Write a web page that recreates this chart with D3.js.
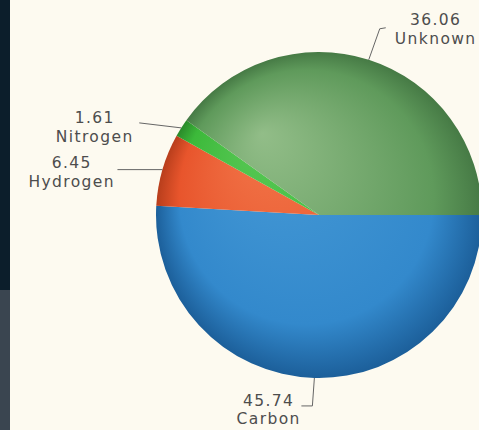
<!DOCTYPE html>
<html><head><meta charset="utf-8">
<script src="https://cdn.jsdelivr.net/npm/d3@7"></script>
<style>html,body{margin:0;padding:0;background:#fdfaf0;}svg{display:block;}</style>
</head><body>
<svg id="chart" width="479" height="430"></svg>
<script>
const categories = ["Carbon", "Hydrogen", "Nitrogen", "Unknown"];
const values = [45.74, 6.45, 1.61, 36.06];
const labels = ["45.74", "6.45", "1.61", "36.06"];
const baseColors = ["#3389cc", "#e8552c", "#3cb93a", "#5f9a5b"];
const lightColors = ["#469ad6", "#f2764a", "#58c855", "#92bd88"];
const darkColors = ["#1c5f9a", "#b83e1c", "#2a8a2a", "#467a45"];

const svg = d3.select("#chart");
const W = 479, H = 430;
svg.append("rect").attr("width", W).attr("height", H).attr("fill", "#fdfaf0");
svg.append("rect").attr("x", 0).attr("y", 0).attr("width", 10).attr("height", 290).attr("fill", "#0c1e2b");
svg.append("rect").attr("x", 0).attr("y", 290).attr("width", 10).attr("height", 140).attr("fill", "#3a4550");

const cx = 319, cy = 215, R = 163;
const defs = svg.append("defs");
categories.forEach((c, i) => {
  const g = defs.append("radialGradient").attr("id", "g" + i)
    .attr("gradientUnits", "userSpaceOnUse")
    .attr("cx", 0).attr("cy", 0).attr("r", R)
    .attr("fx", -0.35 * R).attr("fy", -0.5 * R);
  g.append("stop").attr("offset", "0").attr("stop-color", lightColors[i]);
  g.append("stop").attr("offset", "0.78").attr("stop-color", baseColors[i]);
  g.append("stop").attr("offset", "1").attr("stop-color", darkColors[i]);
});

const data = categories.map((c, i) => ({ cat: c, value: values[i], label: labels[i], i }));
const pie = d3.pie().value(d => d.value).sort(null)
  .startAngle(Math.PI / 2).endAngle(Math.PI / 2 + 2 * Math.PI);
const arcs = pie(data);
const arc = d3.arc().innerRadius(0).outerRadius(R);

const gPie = svg.append("g").attr("transform", `translate(${cx},${cy})`);
gPie.selectAll("path").data(arcs).enter().append("path")
  .attr("d", arc)
  .attr("fill", d => `url(#g${d.data.i})`);

// leader lines and labels
const labelSpec = {
  Carbon:   { pts: [[0, 0], [-2, 28], [-13, 28]], tx: 268, ty: [406, 424] },
  Hydrogen: { pts: [[0, 0], [-45, 0]], tx: 71, ty: [168, 187] },
  Nitrogen: { pts: [[0, 0], [-42, -5]], tx: 94, ty: [123, 142] },
  Unknown:  { pts: [[0, 0], [11, -31], [17, -32]], tx: 435, ty: [25, 44] }
};
const lineG = svg.append("g");
arcs.forEach(a => {
  const mid = (a.startAngle + a.endAngle) / 2;
  const px = cx + Math.sin(mid) * R, py = cy - Math.cos(mid) * R;
  const s = labelSpec[a.data.cat];
  const pts = s.pts.map(p => [px + p[0], py + p[1]]);
  lineG.append("path").attr("d", d3.line()(pts))
    .attr("fill", "none").attr("stroke", "#666").attr("stroke-width", 1);
  const t = svg.append("text").attr("text-anchor", "middle")
    .attr("font-family", "DejaVu Sans, Verdana, sans-serif").attr("font-size", 15.5)
    .attr("letter-spacing", 1.4)
    .attr("fill", "#4d4d4d");
  t.append("tspan").attr("x", s.tx + 0.7).attr("y", s.ty[0]).text(a.data.label);
  t.append("tspan").attr("x", s.tx + 0.7).attr("y", s.ty[1]).text(a.data.cat);
});
</script>
</body></html>
